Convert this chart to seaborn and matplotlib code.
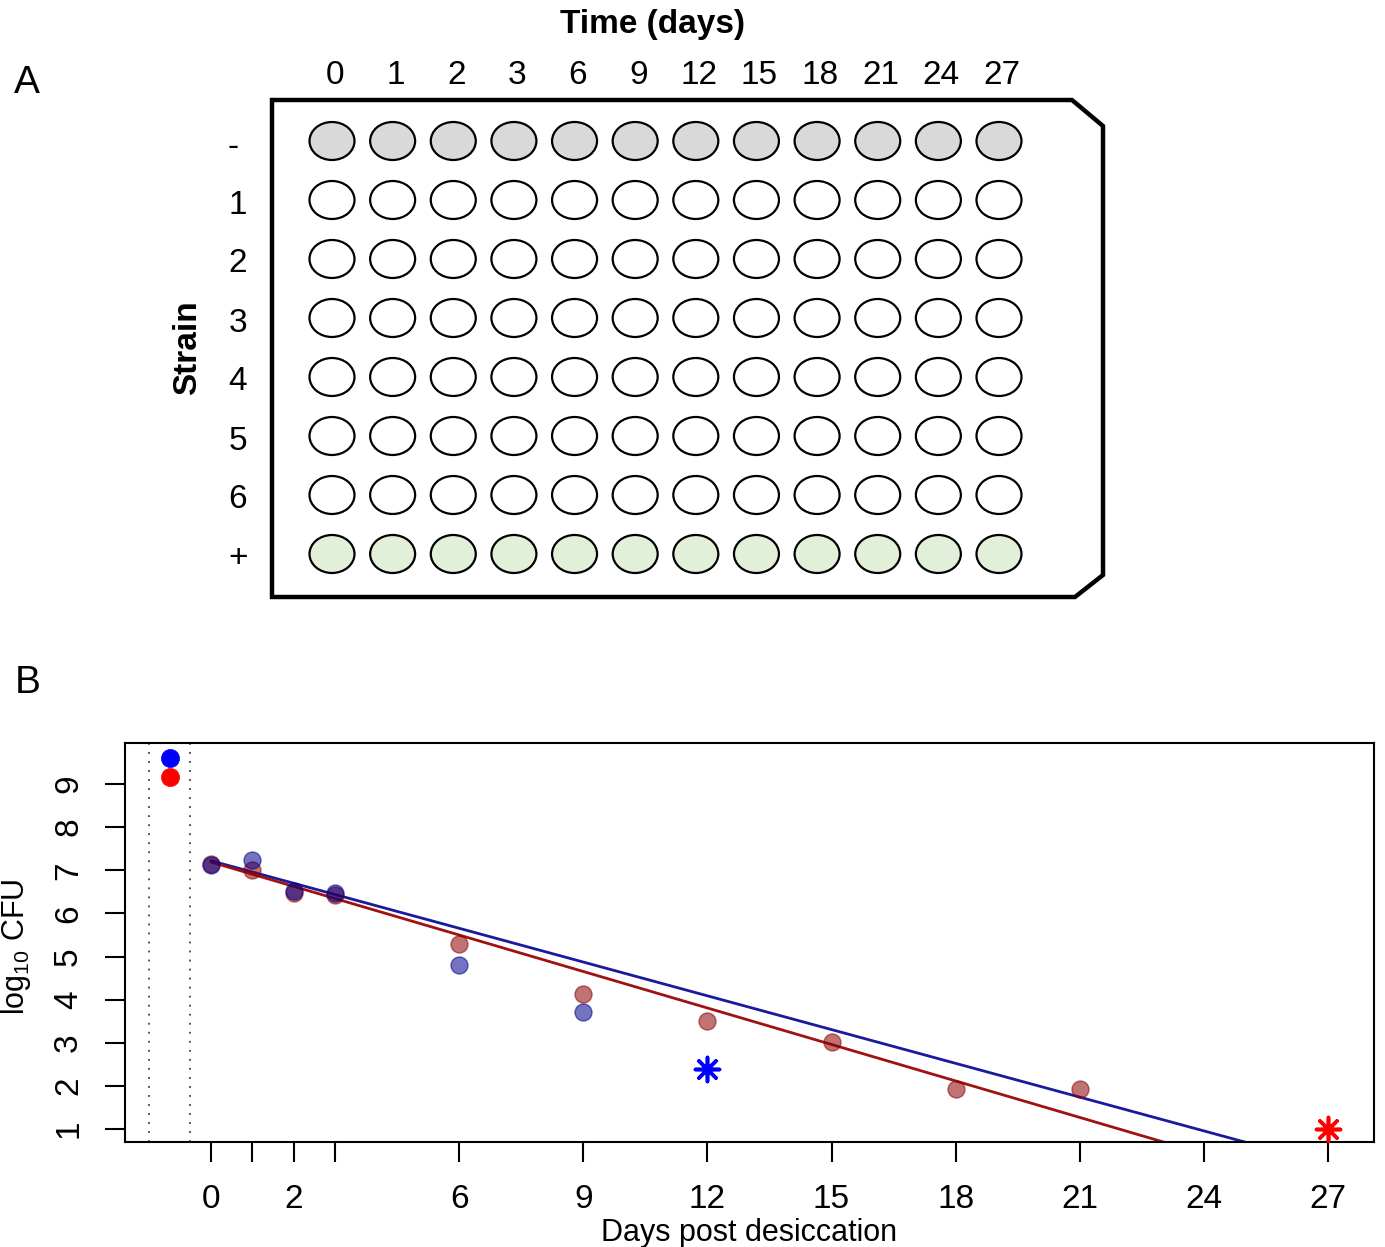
import matplotlib
matplotlib.use("Agg")
import matplotlib.pyplot as plt
from matplotlib.patches import Ellipse, Polygon
import seaborn as sns
import pandas as pd
import numpy as np

# ---------------- data ----------------
time_labels = ["0", "1", "2", "3", "6", "9", "12", "15", "18", "21", "24", "27"]
strain_labels = ["-", "1", "2", "3", "4", "5", "6", "+"]
row_fill = ["#d9d9d9", "white", "white", "white", "white", "white", "white", "#e2efd9"]

pre_day = [-1]
pre_blue = [9.60]
pre_red = [9.16]

blue_days = [0, 1, 2, 3, 6, 9]
blue_cfu = [7.13, 7.24, 6.52, 6.47, 4.80, 3.71]
blue_lod_days = [12]
blue_lod_cfu = [2.39]

red_days = [0, 1, 2, 3, 6, 9, 12, 15, 18, 21]
red_cfu = [7.15, 7.00, 6.47, 6.43, 5.29, 4.13, 3.50, 3.02, 1.93, 1.93]
red_lod_days = [27]
red_lod_cfu = [1.00]

blue_fit = {"intercept": 7.22, "slope": -0.261}
red_fit = {"intercept": 7.19, "slope": -0.282}
fit_days = [0, 27]

x_ticks = [0, 1, 2, 3, 6, 9, 12, 15, 18, 21, 24, 27]
x_ticklabels = ["0", "", "2", "", "6", "9", "12", "15", "18", "21", "24", "27"]
y_ticks = [1, 2, 3, 4, 5, 6, 7, 8, 9]
cutoff_lines = [-1.5, -0.5]

# ---------------- style ----------------
sns.set_theme(style="white")
FONT = ["Liberation Sans Narrow", "Liberation Sans", "DejaVu Sans"]
plt.rcParams["font.family"] = FONT
plt.rcParams["text.color"] = "black"
plt.rcParams["axes.labelcolor"] = "black"
plt.rcParams["xtick.color"] = "black"
plt.rcParams["ytick.color"] = "black"
plt.rcParams["mathtext.fontset"] = "custom"
plt.rcParams["mathtext.rm"] = "Liberation Sans"
plt.rcParams["mathtext.it"] = "Liberation Sans"

W, H = 1385, 1247
fig = plt.figure(figsize=(W / 100, H / 100), dpi=100)

# ---------------- panel A: plate ----------------
axA = fig.add_axes([0, 1 - 640 / H, 1, 640 / H])
axA.set_axis_off()
col_px0, col_dx = 332, 60.636
row_py0, row_dy = 141, 59.0
axA.set_xlim((0 - col_px0) / col_dx, (W - col_px0) / col_dx)
axA.set_ylim((640 - row_py0) / row_dy, (0 - row_py0) / row_dy)

def cx(px):
    return (px - col_px0) / col_dx

def ry(py):
    return (py - row_py0) / row_dy

plate = Polygon([(cx(272), ry(100)), (cx(1072), ry(100)), (cx(1103), ry(126)),
                 (cx(1103), ry(575)), (cx(1075), ry(597)), (cx(272), ry(597))],
                closed=True, fill=False, edgecolor="black", linewidth=3.2,
                joinstyle="miter")
axA.add_patch(plate)

for r, fill in enumerate(row_fill):
    for c in range(len(time_labels)):
        axA.add_patch(Ellipse((c, r), 45 / col_dx, 38 / row_dy,
                              facecolor=fill, edgecolor="black", linewidth=1.6))

for c, lab in enumerate(time_labels):
    axA.text(c + 0.05, ry(75), lab, ha="center", va="center", fontsize=24)
for r, lab in enumerate(strain_labels):
    if lab == "-":
        axA.text(cx(233), r + 6 / row_dy, lab, ha="center", va="center", fontsize=24)
    else:
        axA.text(cx(238), r + 5 / row_dy, lab, ha="center", va="center", fontsize=24)
axA.text(cx(653), ry(25), "Time (days)", ha="center", va="center",
         fontsize=24, fontweight="bold")
axA.text(cx(188), 3.5, "Strain", ha="center", va="center", rotation=90,
         fontsize=24, fontweight="bold")

fig.text(27 / W, 1 - 83 / H, "A", ha="center", va="center", fontsize=28,
         family=["Liberation Sans", "DejaVu Sans"])
fig.text(28 / W, 1 - 683 / H, "B", ha="center", va="center", fontsize=28,
         family=["Liberation Sans", "DejaVu Sans"])

# ---------------- panel B: survival ----------------
axB = fig.add_axes([125 / W, 1 - 1142 / H, 1249 / W, 399 / H])
day_px0, day_dx = 211, 1117 / 27
cfu_py9, cfu_dy = 784, 43.125
axB.set_xlim((125 - day_px0) / day_dx, (1374 - day_px0) / day_dx)
axB.set_ylim(9 - (1142 - cfu_py9) / cfu_dy, 9 - (743 - cfu_py9) / cfu_dy)

for xv in cutoff_lines:
    axB.axvline(xv, color="#444444", linestyle=(0, (1, 4)), linewidth=1.3)

red_col = (0.55, 0.0, 0.0)
blue_col = (0.0, 0.0, 0.55)

sns.scatterplot(x=red_days, y=red_cfu, color=red_col, alpha=0.55, s=150,
                edgecolor=red_col, linewidth=1.0, ax=axB, zorder=3)
sns.scatterplot(x=blue_days, y=blue_cfu, color=blue_col, alpha=0.55, s=150,
                edgecolor=blue_col, linewidth=1.0, ax=axB, zorder=3)
sns.scatterplot(x=pre_day, y=pre_blue, color="blue", s=170, edgecolor="blue",
                linewidth=0.5, ax=axB, zorder=4)
sns.scatterplot(x=pre_day, y=pre_red, color="red", s=170, edgecolor="red",
                linewidth=0.5, ax=axB, zorder=4)

axB.scatter(blue_lod_days, blue_lod_cfu, marker=(8, 2, 0), s=300,
            color="blue", linewidths=2.6, zorder=4)
axB.scatter(red_lod_days, red_lod_cfu, marker=(8, 2, 0), s=300,
            color="red", linewidths=2.6, zorder=4)

fd = np.array(fit_days, dtype=float)
sns.lineplot(x=fd, y=blue_fit["intercept"] + blue_fit["slope"] * fd,
             color="#1a1a9e", linewidth=2.0, ax=axB, zorder=2)
sns.lineplot(x=fd, y=red_fit["intercept"] + red_fit["slope"] * fd,
             color="#a01212", linewidth=2.0, ax=axB, zorder=2)

axB.set_xticks(x_ticks)
axB.set_xticklabels(x_ticklabels)
axB.set_yticks(y_ticks)
axB.set_yticklabels([str(v) for v in y_ticks])
axB.tick_params(axis="both", direction="out", length=14.5, width=1.5,
                color="black", labelcolor="black", labelsize=24, pad=16,
                bottom=True, left=True)
axB.tick_params(axis="y", labelrotation=90, pad=15)
for lab in axB.get_yticklabels():
    lab.set_va("center")
for sp in axB.spines.values():
    sp.set_color("black")
    sp.set_linewidth(1.5)

axB.set_xlabel("Days post desiccation", fontsize=22, labelpad=0)
axB.xaxis.set_label_coords(0.5, -0.19)
axB.set_ylabel(r"log$_{\mathregular{10}}$ CFU", fontsize=22)
axB.yaxis.set_label_coords(-0.074, 0.49)

fig.savefig("out.png", dpi=100)
